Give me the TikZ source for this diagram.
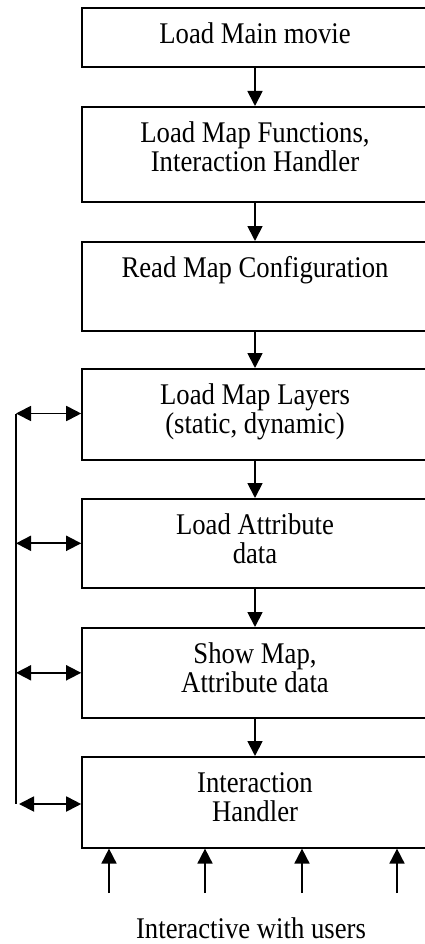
\documentclass[tikz,border=0pt]{standalone}
\usepackage{fontspec}
\setmainfont{Liberation Serif}[FakeStretch=0.89]
\usetikzlibrary{arrows.meta, positioning, calc}
\tikzset{
    stagebox/.style={rectangle, draw=black, line width=1.6pt, fill=white, anchor=north,
                     minimum width=346pt, text width=330pt, align=flush center,
                     inner ysep=0pt, text height=36pt,
                     font=\fontsize{30}{29}\selectfont},
    arrow/.style={-{Triangle[length=15pt, width=15pt]}, line width=1.8pt},
    dblarrow/.style={{Triangle[length=15pt, width=15pt]}-{Triangle[length=15pt, width=15pt]}, line width=1.8pt},
}

\begin{document}
\begin{tikzpicture}[x=1pt, y=-1pt]
            \useasboundingbox (0, 0) rectangle (425, 944);
            \node[stagebox, text depth=23pt] (main) at (255, 7) {Load Main movie};
            \node[stagebox, text depth=59pt] (functions) at (255, 106) {Load Map Functions,\\Interaction Handler};
            \node[stagebox, text depth=53pt] (config) at (255, 241) {Read Map Configuration};
            \node[stagebox, text depth=55pt] (layers) at (255, 368) {Load Map Layers\\(static, dynamic)};
            \node[stagebox, text depth=53pt] (attribute) at (255, 498) {Load Attribute\\data};
            \node[stagebox, text depth=54pt] (show) at (255, 627) {Show Map,\\Attribute data};
            \node[stagebox, text depth=55pt] (handler) at (255, 756) {Interaction\\Handler};
            \node[font=\fontsize{30}{29}\selectfont, anchor=base, inner sep=0pt] (users) at (251, 938) {Interactive with users};

            % main chain
            \draw[arrow] (main) -- (functions);
            \draw[arrow] (functions) -- (config);
            \draw[arrow] (config) -- (layers);
            \draw[arrow] (layers) -- (attribute);
            \draw[arrow] (attribute) -- (show);
            \draw[arrow] (show) -- (handler);

            % side bus
            \coordinate (bustop) at (16, 413.5);
            \coordinate (busbottom) at (16, 804);
            \draw[line width=1.8pt] (bustop) -- (busbottom);
            \draw[dblarrow] (bustop) -- (bustop -| layers.west);
            \draw[dblarrow] (bustop |- attribute.west) -- (attribute.west);
            \draw[dblarrow] (bustop |- show.west) -- (show.west);
            \draw[dblarrow] ($(busbottom) + (3, 0)$) -- (busbottom -| handler.west);

            % user input
            \coordinate (in1) at (109, 893);
            \coordinate (in2) at (205, 893);
            \coordinate (in3) at (302, 893);
            \coordinate (in4) at (397, 893);
            \draw[arrow] (in1) -- (in1 |- handler.south);
            \draw[arrow] (in2) -- (in2 |- handler.south);
            \draw[arrow] (in3) -- (in3 |- handler.south);
            \draw[arrow] (in4) -- (in4 |- handler.south);
        \end{tikzpicture}
\end{document}
